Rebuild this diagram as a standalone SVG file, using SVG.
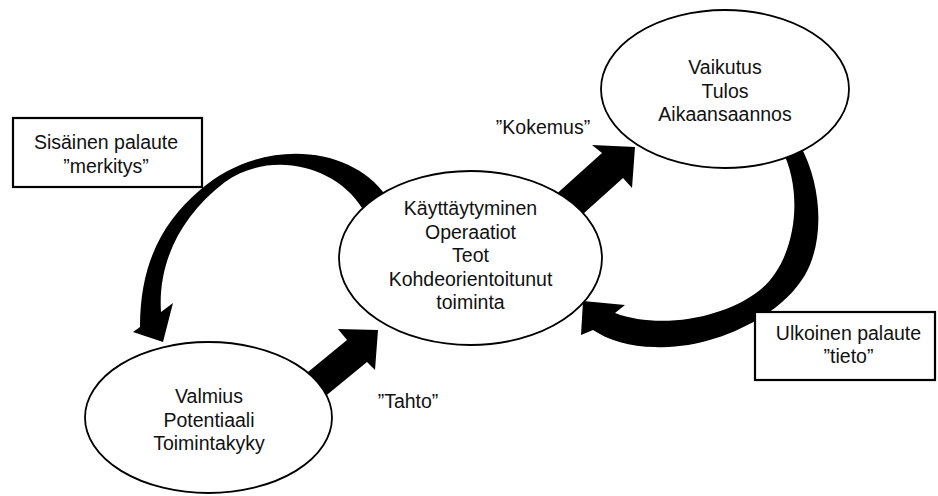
<svg xmlns="http://www.w3.org/2000/svg" width="938" height="496" viewBox="0 0 938 496">
  <style>
    .node { fill: #ffffff; stroke: #000000; stroke-width: 1.8; }
    .box { fill: #ffffff; stroke: #000000; stroke-width: 2.2; }
    .arrow { fill: #000000; stroke: none; }
    text { font-family: "Liberation Sans", Arial, sans-serif; font-size: 19.5px; fill: #111111; text-anchor: middle; }
  </style>
  <rect width="938" height="496" fill="#ffffff"/>

  <!-- connectors: thick block arrows, drawn beneath the ellipses -->
  <g id="connectors">
    <!-- "Tahto": readiness to behaviour -->
    <polygon class="arrow" points="288.5,388 347,340 338,329 378,330 375,370 367,362 308.5,410"/>
    <!-- "Kokemus": behaviour to effect -->
    <polygon class="arrow" points="542,207 602,153 592,145 635,147 632,188 623,178 563,232"/>
    <!-- internal feedback: behaviour back to readiness -->
    <path class="arrow" d="M 386,196 C 352,146 262,136 200,190 C 165,220 140,260 140,327
             L 133,332 L 163,342 L 173,303 L 161,312
             C 158,265 178,218 225,182 C 270,150 335,165 362,208 Z"/>
    <!-- external feedback: effect back to behaviour -->
    <path class="arrow" d="M 800,145 C 822,185 825,240 805,275 C 780,318 710,350 655,347
             C 630,347 608,340 593,330
             L 581,335 L 583,301 L 625,305 L 615,313
             C 660,330 725,318 760,290 C 795,262 805,195 782,150 Z"/>
  </g>

  <g id="node-kayttaytyminen">
    <ellipse class="node" cx="470.5" cy="258" rx="131.5" ry="87"/>
    <text x="470.5" y="215">Käyttäytyminen</text>
    <text x="470.5" y="238.5">Operaatiot</text>
    <text x="470.5" y="262">Teot</text>
    <text x="470.5" y="285.5">Kohdeorientoitunut</text>
    <text x="470.5" y="309">toiminta</text>
  </g>

  <g id="node-vaikutus">
    <ellipse class="node" cx="725" cy="89" rx="124" ry="79"/>
    <text x="725" y="74">Vaikutus</text>
    <text x="725" y="97.5">Tulos</text>
    <text x="725" y="121">Aikaansaannos</text>
  </g>

  <g id="node-valmius">
    <ellipse class="node" cx="208.5" cy="417.5" rx="123.5" ry="75.5"/>
    <text x="209" y="403">Valmius</text>
    <text x="209" y="426.5">Potentiaali</text>
    <text x="209" y="450">Toimintakyky</text>
  </g>

  <g id="label-sisainen">
    <rect class="box" x="13" y="118" width="189" height="69"/>
    <text x="106" y="149">Sisäinen palaute</text>
    <text x="106" y="173">”merkitys”</text>
  </g>

  <g id="label-ulkoinen">
    <rect class="box" x="755" y="312" width="180" height="68"/>
    <text x="848.5" y="340">Ulkoinen palaute</text>
    <text x="848.5" y="363">”tieto”</text>
  </g>

  <g id="label-kokemus">
    <text x="543" y="134">”Kokemus”</text>
  </g>

  <g id="label-tahto">
    <text x="408" y="408">”Tahto”</text>
  </g>
</svg>
